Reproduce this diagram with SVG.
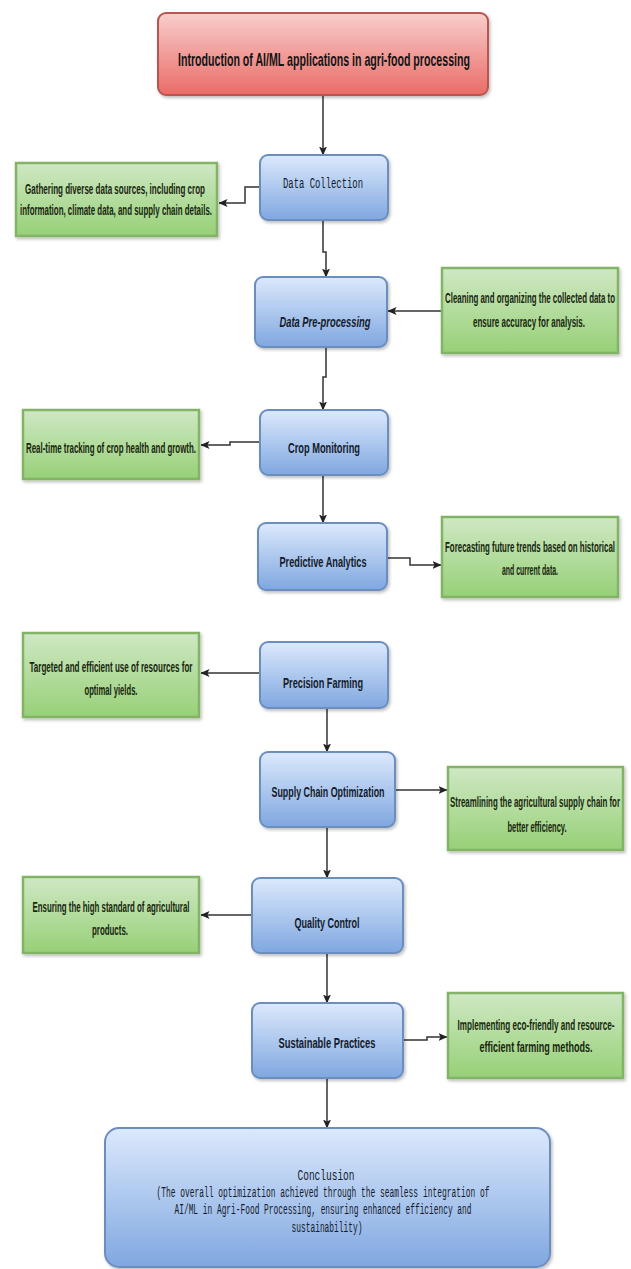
<svg xmlns="http://www.w3.org/2000/svg" width="631" height="1269" viewBox="0 0 631 1269">
<defs>
<linearGradient id="gBlue" x1="0" y1="0" x2="0" y2="1"><stop offset="0" stop-color="#dce9fc"/><stop offset="1" stop-color="#7fa7e0"/></linearGradient>
<linearGradient id="gRed" x1="0" y1="0" x2="0" y2="1"><stop offset="0" stop-color="#f8cecc"/><stop offset="1" stop-color="#ea6b66"/></linearGradient>
<linearGradient id="gGreen" x1="0" y1="0" x2="0" y2="1"><stop offset="0" stop-color="#cfe8c4"/><stop offset="1" stop-color="#97d077"/></linearGradient>
<filter id="sh" x="-10%" y="-10%" width="130%" height="140%"><feDropShadow dx="1.5" dy="2" stdDeviation="1.5" flood-color="#000" flood-opacity="0.25"/></filter>
<marker id="arr" markerWidth="9" markerHeight="8" refX="8.5" refY="4" orient="auto" markerUnits="userSpaceOnUse"><path d="M0,0 L9,4 L0,8 L2,4 Z" fill="#222"/></marker>
<style>
.blue{fill:url(#gBlue);stroke:#6c8ebf;stroke-width:2;filter:url(#sh)}
.red{fill:url(#gRed);stroke:#b85450;stroke-width:2;filter:url(#sh)}
.green{fill:url(#gGreen);stroke:#82b366;stroke-width:2.5;filter:url(#sh)}
.ttl{font-family:"Liberation Sans",Arial,sans-serif;font-weight:bold;font-size:10.7px;fill:#141414;text-anchor:middle}
.lbl{font-family:"Liberation Sans",Arial,sans-serif;font-weight:bold;font-size:9.3px;fill:#141a2a;text-anchor:middle}
.gt{font-family:"Liberation Sans",Arial,sans-serif;font-weight:bold;font-size:8px;fill:#18260e;text-anchor:middle}
.mono{font-family:"Liberation Mono","DejaVu Sans Mono",monospace;font-size:8.9px;fill:#141a2a;text-anchor:middle}
.cm{font-family:"Liberation Mono","DejaVu Sans Mono",monospace;font-size:7.9px;fill:#141a2a;text-anchor:middle}
.conn{fill:none;stroke:#333;stroke-width:1.5;marker-end:url(#arr)}
</style>
</defs>

<g id="connectors">
<path class="conn" d="M323 95 V155"/>
<path class="conn" d="M260 187 H245 V203 H219"/>
<path class="conn" d="M323 220 V252 H326 V277"/>
<path class="conn" d="M442 311 H388"/>
<path class="conn" d="M326 347 V377 H323 V410"/>
<path class="conn" d="M260 442 H230 V445 H201"/>
<path class="conn" d="M323 475 V523"/>
<path class="conn" d="M387 558 H410 V565 H441"/>
<path class="conn" d="M260 673 H201"/>
<path class="conn" d="M327 708 V752"/>
<path class="conn" d="M395 790 H447"/>
<path class="conn" d="M327 827 V878"/>
<path class="conn" d="M252 915 H201"/>
<path class="conn" d="M327 953 V1003"/>
<path class="conn" d="M403 1040 H427 V1037 H447"/>
<path class="conn" d="M327 1078 V1128"/>
</g>

<g id="intro">
<rect class="red" x="158" y="13" width="330" height="82" rx="8"/>
<text class="ttl" x="324" y="66" transform="matrix(1 0 0 1.75 0 -49.5)" textLength="292" lengthAdjust="spacingAndGlyphs">Introduction of AI/ML applications in agri-food processing</text>
</g>

<g id="data-collection">
<rect class="blue" x="260" y="155" width="128" height="65" rx="8"/>
<text class="mono" x="323" y="188" transform="matrix(1 0 0 1.7 0 -131.6)" textLength="80" lengthAdjust="spacingAndGlyphs">Data Collection</text>
</g>
<g id="note-data-collection">
<rect class="green" x="16" y="163" width="201" height="73"/>
<text class="gt" x="115" y="194" transform="matrix(1 0 0 1.75 0 -145.5)" textLength="180" lengthAdjust="spacingAndGlyphs">Gathering diverse data sources, including crop</text>
<text class="gt" x="116" y="215" transform="matrix(1 0 0 1.75 0 -161.25)" textLength="192" lengthAdjust="spacingAndGlyphs">information, climate data, and supply chain details.</text>
</g>

<g id="data-preprocessing">
<rect class="blue" x="255" y="277" width="132" height="70" rx="8"/>
<text class="lbl" x="325" y="327" font-style="italic" transform="matrix(1 0 0 1.6 0 -196.2)" textLength="91" lengthAdjust="spacingAndGlyphs">Data Pre-processing</text>
</g>
<g id="note-preprocessing">
<rect class="green" x="442" y="268" width="176" height="85"/>
<text class="gt" x="530" y="303" transform="matrix(1 0 0 1.75 0 -227.25)" textLength="170" lengthAdjust="spacingAndGlyphs">Cleaning and organizing the collected data to</text>
<text class="gt" x="529" y="327" transform="matrix(1 0 0 1.75 0 -245.25)" textLength="112" lengthAdjust="spacingAndGlyphs">ensure accuracy for analysis.</text>
</g>

<g id="crop-monitoring">
<rect class="blue" x="260" y="410" width="128" height="65" rx="8"/>
<text class="lbl" x="324" y="453" transform="matrix(1 0 0 1.6 0 -271.8)" textLength="72" lengthAdjust="spacingAndGlyphs">Crop Monitoring</text>
</g>
<g id="note-crop">
<rect class="green" x="23" y="410" width="176" height="69"/>
<text class="gt" x="111" y="453" transform="matrix(1 0 0 1.75 0 -339.75)" textLength="170" lengthAdjust="spacingAndGlyphs">Real-time tracking of crop health and growth.</text>
</g>

<g id="predictive-analytics">
<rect class="blue" x="258" y="523" width="129" height="67" rx="8"/>
<text class="lbl" x="323" y="567" transform="matrix(1 0 0 1.6 0 -340.2)" textLength="87" lengthAdjust="spacingAndGlyphs">Predictive Analytics</text>
</g>
<g id="note-predictive">
<rect class="green" x="442" y="517" width="176" height="80"/>
<text class="gt" x="530" y="552" transform="matrix(1 0 0 1.75 0 -414)" textLength="170" lengthAdjust="spacingAndGlyphs">Forecasting future trends based on historical</text>
<text class="gt" x="530" y="575" transform="matrix(1 0 0 1.75 0 -431.25)" textLength="56" lengthAdjust="spacingAndGlyphs">and current data.</text>
</g>

<g id="precision-farming">
<rect class="blue" x="260" y="642" width="128" height="66" rx="8"/>
<text class="lbl" x="323" y="688" transform="matrix(1 0 0 1.6 0 -412.8)" textLength="80" lengthAdjust="spacingAndGlyphs">Precision Farming</text>
</g>
<g id="note-precision">
<rect class="green" x="23" y="633" width="176" height="84"/>
<text class="gt" x="111" y="672" transform="matrix(1 0 0 1.75 0 -504)" textLength="163" lengthAdjust="spacingAndGlyphs">Targeted and efficient use of resources for</text>
<text class="gt" x="111" y="695" transform="matrix(1 0 0 1.75 0 -521.25)" textLength="53" lengthAdjust="spacingAndGlyphs">optimal yields.</text>
</g>

<g id="supply-chain">
<rect class="blue" x="260" y="752" width="135" height="75" rx="8"/>
<text class="lbl" x="328" y="797" transform="matrix(1 0 0 1.6 0 -478.2)" textLength="113" lengthAdjust="spacingAndGlyphs">Supply Chain Optimization</text>
</g>
<g id="note-supply">
<rect class="green" x="448" y="767" width="175" height="83"/>
<text class="gt" x="535" y="807" transform="matrix(1 0 0 1.75 0 -605.25)" textLength="170" lengthAdjust="spacingAndGlyphs">Streamlining the agricultural supply chain for</text>
<text class="gt" x="537" y="832" transform="matrix(1 0 0 1.75 0 -624)" textLength="59" lengthAdjust="spacingAndGlyphs">better efficiency.</text>
</g>

<g id="quality-control">
<rect class="blue" x="252" y="878" width="151" height="75" rx="8"/>
<text class="lbl" x="327" y="928" transform="matrix(1 0 0 1.6 0 -556.8)" textLength="65" lengthAdjust="spacingAndGlyphs">Quality Control</text>
</g>
<g id="note-quality">
<rect class="green" x="23" y="877" width="176" height="76"/>
<text class="gt" x="111" y="912" transform="matrix(1 0 0 1.75 0 -684)" textLength="157" lengthAdjust="spacingAndGlyphs">Ensuring the high standard of agricultural</text>
<text class="gt" x="110" y="935" transform="matrix(1 0 0 1.75 0 -701.25)" textLength="36" lengthAdjust="spacingAndGlyphs">products.</text>
</g>

<g id="sustainable-practices">
<rect class="blue" x="252" y="1003" width="151" height="75" rx="8"/>
<text class="lbl" x="327" y="1048" transform="matrix(1 0 0 1.6 0 -628.8)" textLength="97" lengthAdjust="spacingAndGlyphs">Sustainable Practices</text>
</g>
<g id="note-sustainable">
<rect class="green" x="448" y="993" width="175" height="85"/>
<text class="gt" x="536" y="1030" transform="matrix(1 0 0 1.75 0 -772.5)" textLength="157" lengthAdjust="spacingAndGlyphs">Implementing eco-friendly and resource-</text>
<text class="gt" x="536" y="1052" transform="matrix(1 0 0 1.75 0 -789)" textLength="113" lengthAdjust="spacingAndGlyphs">efficient farming methods.</text>
</g>

<g id="conclusion">
<rect class="blue" x="105" y="1128" width="445" height="139" rx="14"/>
<text class="mono" x="326" y="1180" font-size="9.2" transform="matrix(1 0 0 1.55 0 -649)" textLength="57" lengthAdjust="spacingAndGlyphs">Conclusion</text>
<text class="cm" x="323" y="1197" transform="matrix(1 0 0 1.75 0 -897.75)" textLength="333" lengthAdjust="spacingAndGlyphs">(The overall optimization achieved through the seamless integration of</text>
<text class="cm" x="323" y="1214" transform="matrix(1 0 0 1.75 0 -910.5)" textLength="297" lengthAdjust="spacingAndGlyphs">AI/ML in Agri-Food Processing, ensuring enhanced efficiency and</text>
<text class="cm" x="327" y="1232" transform="matrix(1 0 0 1.75 0 -924)" textLength="71" lengthAdjust="spacingAndGlyphs">sustainability)</text>
</g>
</svg>
